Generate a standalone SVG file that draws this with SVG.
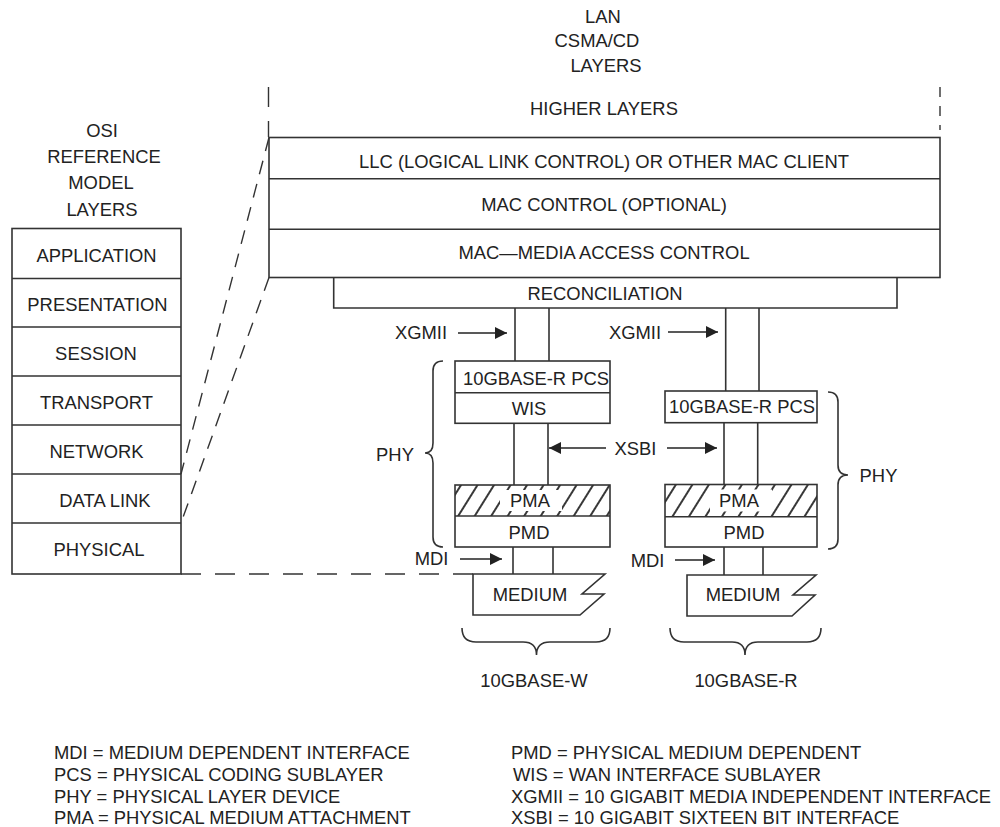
<svg xmlns="http://www.w3.org/2000/svg" width="1000" height="827" viewBox="0 0 1000 827">
<style>
text{font-family:"Liberation Sans",Arial,sans-serif;font-size:18.4px;fill:#222}
.m{text-anchor:middle}
.box{fill:#fff;stroke:#333;stroke-width:1.6}
.ln{fill:none;stroke:#333;stroke-width:1.6}
.dash{fill:none;stroke:#333;stroke-width:1.4;stroke-dasharray:20 14}
.ddiag{fill:none;stroke:#333;stroke-width:1.4;stroke-dasharray:14 10}
.arr{fill:none;stroke:#222;stroke-width:1.6;marker-end:url(#ah)}
</style>
<defs>
<marker id="ah" viewBox="0 0 12 12" refX="12" refY="6" markerWidth="12" markerHeight="12" markerUnits="userSpaceOnUse" orient="auto">
<path d="M0,0 L12,6 L0,12 Z" fill="#222"/>
</marker>
<pattern id="hatch" width="14" height="40" patternUnits="userSpaceOnUse" patternTransform="rotate(32)">
<line x1="4" y1="0" x2="4" y2="40" stroke="#222" stroke-width="1.8"/>
</pattern>
</defs>

<g id="lan-title">
<text class="m" x="603" y="23">LAN</text>
<text class="m" x="597" y="47">CSMA/CD</text>
<text class="m" x="606" y="72">LAYERS</text>
<text class="m" x="604" y="115">HIGHER LAYERS</text>
</g>

<g id="osi-title">
<text class="m" x="102" y="137">OSI</text>
<text class="m" x="104" y="163">REFERENCE</text>
<text class="m" x="101" y="189">MODEL</text>
<text class="m" x="102" y="216">LAYERS</text>
</g>

<g id="osi-stack">
<rect class="box" x="12" y="228.5" width="169" height="345.5"/>
<path class="ln" d="M12,278.5H181M12,327H181M12,376H181M12,425H181M12,474H181M12,523H181"/>
<text class="m" x="96.5" y="262">APPLICATION</text>
<text class="m" x="97.5" y="311">PRESENTATION</text>
<text class="m" x="96" y="360">SESSION</text>
<text class="m" x="96.5" y="409">TRANSPORT</text>
<text class="m" x="96.5" y="458">NETWORK</text>
<text class="m" x="105" y="507">DATA LINK</text>
<text class="m" x="99" y="556">PHYSICAL</text>
</g>

<g id="lan-stack">
<rect class="box" x="269" y="137.5" width="671" height="140"/>
<path class="ln" d="M269,178.7H940M269,229.3H940"/>
<text class="m" x="604" y="167.5">LLC (LOGICAL LINK CONTROL) OR OTHER MAC CLIENT</text>
<text class="m" x="604" y="211">MAC CONTROL (OPTIONAL)</text>
<text class="m" x="604" y="259">MAC—MEDIA ACCESS CONTROL</text>
</g>

<g id="reconciliation">
<path class="ln" d="M333.7,277.5V308H897V277.5"/>
<text class="m" x="605" y="300">RECONCILIATION</text>
</g>

<g id="w-pcs-wis">
<rect class="box" x="455" y="361" width="155" height="62.3"/>
<path class="ln" d="M455,392.7H610"/>
<text class="m" x="536" y="385">10GBASE-R PCS</text>
<text class="m" x="529" y="415">WIS</text>
</g>

<g id="w-pma-pmd">
<rect x="455" y="485" width="155" height="31" fill="url(#hatch)"/>
<rect x="500" y="490" width="62" height="21" fill="#fff"/>
<rect class="box" x="455" y="485" width="155" height="62" fill="none" style="fill:none"/>
<path class="ln" d="M455,516H610"/>
<text class="m" x="530" y="507">PMA</text>
<text class="m" x="529" y="539">PMD</text>
</g>

<g id="w-medium">
<polygon class="box" points="473,574 605,574 582,594 604,594 580,615 473,615"/>
<text class="m" x="530" y="601">MEDIUM</text>
</g>

<g id="r-pcs">
<rect class="box" x="665" y="391" width="152" height="31.7"/>
<text class="m" x="742" y="413">10GBASE-R PCS</text>
</g>

<g id="r-pma-pmd">
<rect x="665" y="484.5" width="152" height="32" fill="url(#hatch)"/>
<rect x="710" y="489.5" width="62" height="22" fill="#fff"/>
<rect class="box" x="665" y="484.5" width="152" height="62.5" style="fill:none"/>
<path class="ln" d="M665,516.7H817"/>
<text class="m" x="739" y="507">PMA</text>
<text class="m" x="744" y="539">PMD</text>
</g>

<g id="r-medium">
<polygon class="box" points="687,575 816,575 793,595 815,595 792,616 687,616"/>
<text class="m" x="743" y="601">MEDIUM</text>
</g>

<g id="labels">
<text class="m" x="421" y="339">XGMII</text>
<text class="m" x="635" y="338.5">XGMII</text>
<text class="m" x="635.5" y="454.5">XSBI</text>
<text class="m" x="431.5" y="565">MDI</text>
<text class="m" x="647.5" y="567">MDI</text>
<text class="m" x="395" y="460.5">PHY</text>
<text class="m" x="878.5" y="481.5">PHY</text>
<text class="m" x="534" y="687">10GBASE-W</text>
<text class="m" x="746" y="687">10GBASE-R</text>
</g>

<g id="connectors">
<path class="ln" d="M515,308V361M549,308V361"/>
<path class="ln" d="M514,423.3V485M548,423.3V485"/>
<path class="ln" d="M513,547V574M553,547V574"/>
<path class="ln" d="M725.7,308V391M759,308V391"/>
<path class="ln" d="M724,422.7V484.5M757.7,422.7V484.5"/>
<path class="ln" d="M724,547V575M763,547V575"/>
<path class="arr" d="M458,333H507"/>
<path class="arr" d="M668,332H718"/>
<path class="arr" d="M606,448H549"/>
<path class="arr" d="M667,448H717"/>
<path class="arr" d="M460,559H502"/>
<path class="arr" d="M675,560H715"/>
<path class="dash" d="M268.5,87V137"/>
<path class="dash" d="M940,87V130" style="stroke-dasharray:10 9"/>
<path class="ddiag" d="M269,137.5L181,474"/>
<path class="ddiag" d="M269,277.5L181,523"/>
<path class="dash" d="M181,574H473"/>
</g>

<g id="braces">
<path class="ln" d="M443,361Q433,361 433,371V443Q433,453 425,453Q433,453 433,463V537Q433,547 443,547"/>
<path class="ln" d="M828,392Q838,392 838,402V465Q838,475 848,475Q838,475 838,485V539Q838,549 828,549"/>
<path class="ln" d="M462,628Q462,642 476,642H523Q536.5,642 536.5,655Q536.5,642 550,642H596Q610,642 610,628"/>
<path class="ln" d="M670,628Q670,642 684,642H732Q745,642 745,655Q745,642 758,642H807Q821,642 821,628"/>
</g>

<g id="legend">
<text x="54" y="759">MDI = MEDIUM DEPENDENT INTERFACE</text>
<text x="54" y="781">PCS = PHYSICAL CODING SUBLAYER</text>
<text x="54" y="803">PHY = PHYSICAL LAYER DEVICE</text>
<text x="54" y="824">PMA = PHYSICAL MEDIUM ATTACHMENT</text>
<text x="511" y="759">PMD = PHYSICAL MEDIUM DEPENDENT</text>
<text x="513" y="781">WIS = WAN INTERFACE SUBLAYER</text>
<text x="511" y="803">XGMII = 10 GIGABIT MEDIA INDEPENDENT INTERFACE</text>
<text x="511" y="824">XSBI = 10 GIGABIT SIXTEEN BIT INTERFACE</text>
</g>
</svg>
